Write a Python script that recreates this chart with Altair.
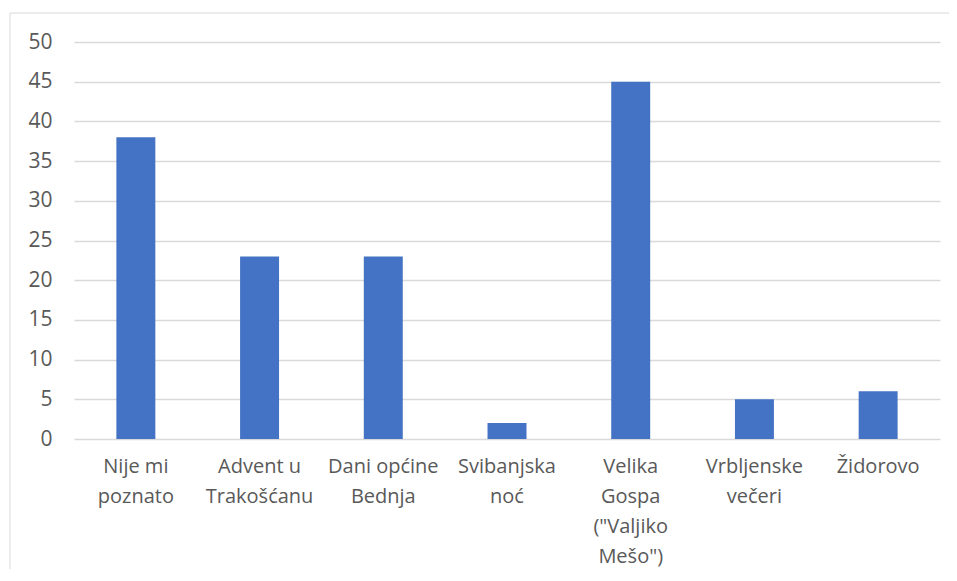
import altair as alt
import pandas as pd

categories = [
    "Nije mi\npoznato",
    "Advent u\nTrakošćanu",
    "Dani općine\nBednja",
    "Svibanjska\nnoć",
    "Velika\nGospa\n(\"Valjiko\nMešo\")",
    "Vrbljenske\nvečeri",
    "Židorovo",
]
values = [38, 23, 23, 2, 45, 5, 6]
y_ticks = [0, 5, 10, 15, 20, 25, 30, 35, 40, 45, 50]

df = pd.DataFrame({"cat": categories, "val": values})

FONT = "Open Sans"
GRAY = "#595959"

bars = alt.Chart(df).mark_bar(color="#4472C4").encode(
    x=alt.X(
        "cat:N",
        sort=categories,
        scale=alt.Scale(paddingInner=0.685, paddingOuter=0.3425),
        axis=alt.Axis(
            title=None,
            labelAngle=0,
            labelExpr="split(datum.label, '\\n')",
            labelLineHeight=30,
            labelFont=FONT,
            labelFontSize=20,
            labelColor=GRAY,
            labelPadding=17,
            ticks=False,
            domain=False,
            grid=False,
            labelLimit=300,
            labelBaseline="top",
        ),
    ),
    y=alt.Y(
        "val:Q",
        scale=alt.Scale(domain=[0, 50], nice=False),
        axis=alt.Axis(
            title=None,
            values=y_ticks,
            labelFont=FONT,
            labelFontSize=21,
            labelColor=GRAY,
            labelPadding=22,
            tickSize=0,
            ticks=False,
            domain=False,
            grid=True,
            gridColor="#d9d9d9",
            gridWidth=1.5,
        ),
    ),
)

border_df = pd.DataFrame({"a": [0]})
top_line = alt.Chart(border_df).mark_rule(color="#d9d9d9", strokeWidth=1).encode(
    x=alt.value(-64), x2=alt.value(900), y=alt.value(-29)
)
left_line = alt.Chart(border_df).mark_rule(color="#d9d9d9", strokeWidth=1).encode(
    x=alt.value(-64), y=alt.value(-29), y2=alt.value(600)
)

chart = alt.layer(bars, top_line, left_line).properties(
    width=866,
    height=397,
    autosize=alt.AutoSizeParams(type="none"),
    padding={"left": 66, "top": 34, "right": 9, "bottom": 130},
    background="white",
).configure_view(stroke=None)

chart.save("out.html", embed_options={"renderer": "svg", "actions": False})
